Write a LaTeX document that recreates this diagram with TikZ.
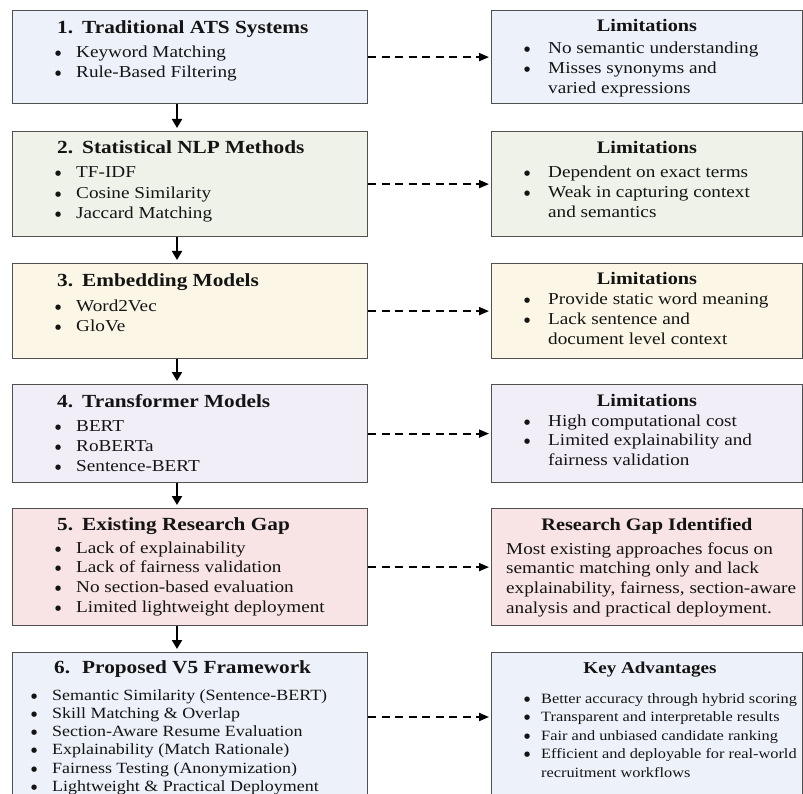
\documentclass[tikz,border=0pt]{standalone}
\usepackage{fontspec}
\setmainfont{Liberation Serif}[FakeStretch=1.15]
\newfontfamily\dotfont{DejaVu Sans}
\usetikzlibrary{arrows.meta,calc}

\definecolor{edge}{HTML}{505050}
\definecolor{ink}{HTML}{141414}
\definecolor{fBlue}{HTML}{EDF1F9}
\definecolor{fGreen}{HTML}{EEF2E8}
\definecolor{fCream}{HTML}{FBF6E6}
\definecolor{fLilac}{HTML}{F1EEF8}
\definecolor{fPink}{HTML}{F8E4E4}

% bullet mark, bulleted line, continuation line, numbered heading
\newcommand\bmark{\raisebox{2pt}{\dotfont\fontsize{7}{7}\selectfont ●}}
\newcommand\bl[2][21pt]{\hbox{\makebox[#1][l]{\bmark}#2}}
\newcommand\cl[2][21pt]{\hbox{\hspace*{#1}#2}}
\newcommand\numhead[3][25pt]{\makebox[#1][l]{#2}#3}
\newcommand\bodylines[2]{\vtop{\baselineskip=#1pt\relax\lineskiplimit=-10pt\relax #2}}

\begin{document}
\begin{tikzpicture}[x=1pt,y=-1pt,
  box/.style={draw=edge, line width=1.2pt, inner sep=0pt, anchor=north west, minimum width=355pt},
  rbox/.style={box, minimum width=311pt},
  txt/.style={inner sep=0pt, text=ink, anchor=base west},
  lhead/.style={txt, font=\fontsize{18.5}{22}\selectfont\bfseries},
  rhead/.style={txt, anchor=base, font=\fontsize{17.6}{21}\selectfont\bfseries},
  body/.style={txt, font=\fontsize{16.7}{20}\selectfont},
  small/.style={txt, font=\fontsize{15.6}{18}\selectfont},
  tiny/.style={txt, font=\fontsize{14.2}{17}\selectfont},
  down/.style={draw=black, line width=2pt, -{Triangle[width=10pt,length=9pt]}, shorten >=3pt},
  side/.style={draw=black, line width=1.8pt, dash pattern=on 8pt off 5.5pt, -{Triangle[width=8pt,length=10pt]}, shorten >=2pt}
]
\clip (0,0) rectangle (803,794);
\fill[white] (0,0) rectangle (803,794);

% ---- left column: stages ----
\node[box, fill=fBlue,  minimum height=93pt]  (b1) at (12,10)  {};
\node[box, fill=fGreen, minimum height=105pt] (b2) at (12,131) {};
\node[box, fill=fCream, minimum height=95pt]  (b3) at (12,263) {};
\node[box, fill=fLilac, minimum height=98pt]  (b4) at (12,384) {};
\node[box, fill=fPink,  minimum height=117pt] (b5) at (12,508) {};
\node[box, fill=fBlue,  minimum height=180pt] (b6) at (12,652) {};

% ---- right column: remarks ----
\node[rbox, fill=fBlue,  minimum height=93pt]  (r1) at (491,10)  {};
\node[rbox, fill=fGreen, minimum height=105pt] (r2) at (491,131) {};
\node[rbox, fill=fCream, minimum height=95pt]  (r3) at (491,263) {};
\node[rbox, fill=fLilac, minimum height=98pt]  (r4) at (491,384) {};
\node[rbox, fill=fPink,  minimum height=117pt] (r5) at (491,508) {};
\node[rbox, fill=fBlue,  minimum height=180pt] (r6) at (491,652) {};

% ---- stage texts ----
\node[lhead] (h1) at (57,34)  {\numhead{1.}{Traditional ATS Systems}};
\node[body]  (t1) at (55,58)  {\bodylines{20}{\bl{Keyword Matching}\bl{Rule-Based Filtering}}};

\node[lhead] (h2) at (57,154) {\numhead{2.}{Statistical NLP Methods}};
\node[body]  (t2) at (55,178) {\bodylines{20.5}{\bl{TF-IDF}\bl{Cosine Similarity}\bl{Jaccard Matching}}};

\node[lhead] (h3) at (57,287) {\numhead{3.}{Embedding Models}};
\node[body]  (t3) at (55,312) {\bodylines{20}{\bl{Word2Vec}\bl{GloVe}}};

\node[lhead] (h4) at (57,407) {\numhead{4.}{Transformer Models}};
\node[body]  (t4) at (55,431) {\bodylines{20}{\bl{BERT}\bl{RoBERTa}\bl{Sentence-BERT}}};

\node[lhead] (h5) at (57,530) {\numhead{5.}{Existing Research Gap}};
\node[body]  (t5) at (55,553) {\bodylines{19.7}{\bl{Lack of explainability}\bl{Lack of fairness validation}\bl{No section-based evaluation}\bl{Limited lightweight deployment}}};

\node[lhead] (h6) at (54,673) {\numhead[28pt]{6.}{Proposed V5 Framework}};
\node[small] (t6) at (31,700) {\bodylines{18.3}{%
  \bl[21pt]{Semantic Similarity (Sentence-BERT)}%
  \bl[21pt]{Skill Matching \& Overlap}%
  \bl[21pt]{Section-Aware Resume Evaluation}%
  \bl[21pt]{Explainability (Match Rationale)}%
  \bl[21pt]{Fairness Testing (Anonymization)}%
  \bl[21pt]{Lightweight \& Practical Deployment}}};

% ---- remark texts ----
\node[rhead] (g1) at (647,32)  {Limitations};
\node[body]  (s1) at (524,54)  {\bodylines{19.6}{\bl[24pt]{No semantic understanding}\bl[24pt]{Misses synonyms and}\cl[24pt]{varied expressions}}};

\node[rhead] (g2) at (647,154) {Limitations};
\node[body]  (s2) at (524,178) {\bodylines{20}{\bl[24pt]{Dependent on exact terms}\bl[24pt]{Weak in capturing context}\cl[24pt]{and semantics}}};

\node[rhead] (g3) at (647,285) {Limitations};
\node[body]  (s3) at (524,305) {\bodylines{20}{\bl[24pt]{Provide static word meaning}\bl[24pt]{Lack sentence and}\cl[24pt]{document level context}}};

\node[rhead] (g4) at (647,406) {Limitations};
\node[body]  (s4) at (524,426) {\bodylines{19.7}{\bl[24pt]{High computational cost}\bl[24pt]{Limited explainability and}\cl[24pt]{fairness validation}}};

\node[rhead] (g5) at (647,530) {Research Gap Identified};
\node[body]  (s5) at (506,554) {\bodylines{19.7}{%
  \hbox{Most existing approaches focus on}%
  \hbox{semantic matching only and lack}%
  \hbox{explainability, fairness, section-aware}%
  \hbox{analysis and practical deployment.}}};

\node[rhead, font=\fontsize{16.6}{20}\selectfont\bfseries] (g6) at (650,673) {Key Advantages};
\node[tiny]  (s6) at (524,703) {\bodylines{18.5}{%
  \bl[17pt]{Better accuracy through hybrid scoring}%
  \bl[17pt]{Transparent and interpretable results}%
  \bl[17pt]{Fair and unbiased candidate ranking}%
  \bl[17pt]{Efficient and deployable for real-world}%
  \cl[17pt]{recruitment workflows}}};

% ---- flow between stages ----
\foreach \a/\b in {b1/b2,b2/b3,b3/b4,b4/b5,b5/b6}
  \draw[down] ($(\a.south west)+(165,0)$) -- ($(\b.north west)+(165,0)$);

% ---- stage to remark ----
\foreach \i in {1,...,5}
  \draw[side] (b\i.east) -- (r\i.west);
\draw[side] ($(b6.north east)+(0,65)$) -- ($(r6.north west)+(0,65)$);
\end{tikzpicture}
\end{document}
